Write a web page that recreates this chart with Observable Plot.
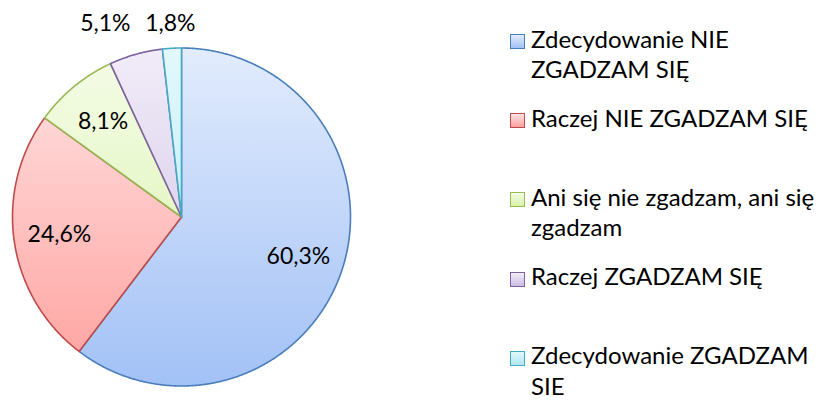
<!DOCTYPE html>
<html>
<head>
<meta charset="utf-8">
<script src="https://cdn.jsdelivr.net/npm/d3@7"></script>
<script src="https://cdn.jsdelivr.net/npm/@observablehq/plot@0.6"></script>
<style>
  html, body { margin: 0; padding: 0; background: #fff; }
  #wrap { position: relative; width: 826px; height: 401px; overflow: hidden; font-family: Lato, "Open Sans", sans-serif; }
  #wrap svg { display: block; }
  .item { position: absolute; left: 510px; width: 316px; display: flex; align-items: flex-start; }
  .sw { width: 13px; height: 13px; margin-top: 10.5px; flex: none; box-sizing: content-box; }
  .lab { margin-left: 6px; width: 295px; font-size: 24px; line-height: 30.5px; color: #000; }
</style>
</head>
<body>
<div id="wrap"></div>
<script>
const categories = [
  "Zdecydowanie NIE ZGADZAM SIĘ",
  "Raczej NIE ZGADZAM SIĘ",
  "Ani się nie zgadzam, ani się zgadzam",
  "Raczej ZGADZAM SIĘ",
  "Zdecydowanie ZGADZAM SIE"
];
const values = [60.3, 24.6, 8.1, 5.1, 1.8];
const valueLabels = ["60,3%", "24,6%", "8,1%", "5,1%", "1,8%"];
const strokeColors = ["#4a7ebb", "#be4b48", "#98b954", "#7d60a0", "#46aac5"];
const lightColors = ["#e2ecfd", "#ffe4e4", "#f5fce8", "#f1ecf8", "#e2f8fd"];
const darkColors  = ["#a2c1f6", "#ffa19e", "#d6f2a6", "#cdbde4", "#b2e7f4"];

const arcs = d3.pie().sort(null).value(d => d)(values);

const pts = [];
arcs.forEach((a, i) => {
  pts.push({k: i, x: 0, y: 0});
  const n = Math.max(2, Math.ceil((a.endAngle - a.startAngle) / 0.005));
  for (let j = 0; j <= n; j++) {
    const t = a.startAngle + (a.endAngle - a.startAngle) * j / n;
    pts.push({k: i, x: Math.sin(t), y: Math.cos(t)});
  }
});

const rPx = 169;
const labels = arcs.map((a, i) => {
  const m = (a.startAngle + a.endAngle) / 2;
  const frac = values[i] / d3.sum(values);
  const outside = frac < 0.06;
  return outside
    ? {i, outside, x: Math.sin(m) * 1.17, y: 1.145, text: valueLabels[i]}
    : {i, outside, x: Math.sin(m) * 0.73, y: Math.cos(m) * 0.73, text: valueLabels[i]};
});
const outs = labels.filter(d => d.outside).sort((a, b) => b.x - a.x);
const gap = 65 / rPx;
for (let j = 1; j < outs.length; j++) {
  if (outs[j].x > outs[j - 1].x - gap) outs[j].x = outs[j - 1].x - gap;
}

const pieTop = 47.5, pieBottom = 385.5;

const defsMark = () => {
  const defs = d3.create("svg:defs");
  categories.forEach((c, i) => {
    const g = defs.append("linearGradient")
      .attr("id", "grad" + i)
      .attr("gradientUnits", "userSpaceOnUse")
      .attr("x1", 0).attr("x2", 0).attr("y1", pieTop).attr("y2", pieBottom);
    g.append("stop").attr("offset", 0).attr("stop-color", lightColors[i]);
    g.append("stop").attr("offset", 1).attr("stop-color", darkColors[i]);
  });
  return defs.node();
};

const sliceMarks = categories.map((c, i) =>
  Plot.line(pts.filter(p => p.k === i), {
    x: "x", y: "y", curve: "linear-closed",
    fill: `url(#grad${i})`, stroke: strokeColors[i], strokeWidth: 1.6,
    strokeLinejoin: "round"
  })
);

const chart = Plot.plot({
  width: 826, height: 401,
  marginLeft: 12, marginRight: 476, marginTop: pieTop, marginBottom: 401 - pieBottom,
  x: {domain: [-1, 1], axis: null},
  y: {domain: [-1, 1], axis: null},
  style: {background: "white", overflow: "visible"},
  marks: [
    defsMark,
    ...sliceMarks,
    Plot.text(labels, {
      x: "x", y: "y", text: "text",
      fontSize: 23, fontFamily: "Lato, sans-serif", fill: "#000",
      textAnchor: "middle"
    })
  ]
});
const wrap = document.getElementById("wrap");
wrap.appendChild(chart);

const spacing = 79.1;
categories.forEach((c, i) => {
  const item = document.createElement("div");
  item.className = "item";
  item.style.top = (41.7 - 18 + i * spacing) + "px";
  const sw = document.createElement("div");
  sw.className = "sw";
  sw.style.border = `1.5px solid ${strokeColors[i]}`;
  sw.style.background = `linear-gradient(${lightColors[i]}, ${darkColors[i]})`;
  const lab = document.createElement("div");
  lab.className = "lab";
  lab.textContent = c;
  item.appendChild(sw);
  item.appendChild(lab);
  wrap.appendChild(item);
});
</script>
</body>
</html>
